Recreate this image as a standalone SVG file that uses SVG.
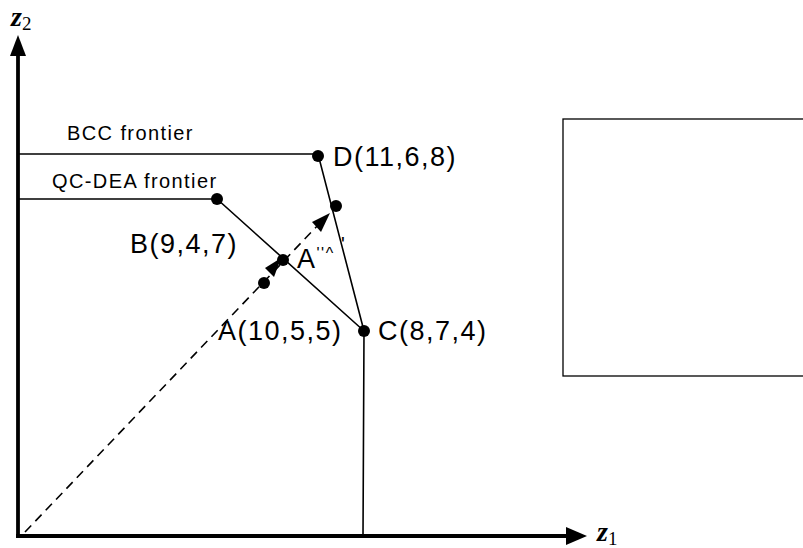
<svg xmlns="http://www.w3.org/2000/svg" width="803" height="548" viewBox="0 0 803 548">
  <style>
    .ln { stroke: #000; stroke-width: 1.6; fill: none; }
    .ax { stroke: #000; stroke-width: 3.8; fill: none; }
    .dash { stroke: #000; stroke-width: 1.6; fill: none; stroke-dasharray: 9 6; }
    .dot { fill: #000; }
    .lbl { font-family: "Liberation Sans", Arial, sans-serif; font-size: 27px; fill: #000; letter-spacing: 1.5px; }
    .sm { font-family: "Liberation Sans", Arial, sans-serif; font-size: 20px; fill: #000; letter-spacing: 1.4px; }
    .ax-lbl { font-family: "Liberation Serif", "Times New Roman", serif; font-style: italic; font-weight: bold; font-size: 28px; fill: #000; }
    .sub { font-family: "Liberation Serif", "Times New Roman", serif; font-style: normal; font-weight: normal; font-size: 19px; fill: #000; }
  </style>

  <!-- axes -->
  <g id="axes">
    <line class="ax" x1="18" y1="538" x2="18" y2="52"/>
    <polygon points="18,35 10,56 26,56" fill="#000"/>
    <line class="ax" x1="16" y1="536" x2="570" y2="536"/>
    <polygon points="587,536 566,527 566,545" fill="#000"/>
    <text class="ax-lbl" x="11" y="26">z<tspan class="sub" dy="4">2</tspan></text>
    <text class="ax-lbl" x="597" y="541">z<tspan class="sub" dy="4">1</tspan></text>
  </g>

  <!-- frontiers and projection paths -->
  <g id="connectors">
    <polyline class="ln" points="18,154 318,154 364,331"/>
    <polyline class="ln" points="18,199 217,199 364,331 363,536"/>
    <line class="dash" x1="25" y1="532" x2="320" y2="223"/>
    <polygon points="330,213 312,222 321,232" fill="#000"/>
    <polygon points="281,258 265,268 274,277" fill="#000"/>
  </g>

  <!-- empty panel on the right -->
  <g id="panel">
    <rect x="563" y="119" width="245" height="257" fill="none" stroke="#000" stroke-width="1.3"/>
  </g>

  <g id="node-D">
    <circle class="dot" cx="318" cy="156" r="6"/>
    <text class="lbl" x="333" y="166">D(11,6,8)</text>
  </g>
  <g id="node-B">
    <circle class="dot" cx="217" cy="199" r="6"/>
    <text class="lbl" x="130" y="253">B(9,4,7)</text>
  </g>
  <g id="node-A">
    <circle class="dot" cx="264" cy="283" r="6"/>
    <text class="lbl" x="218" y="340">A(10,5,5)</text>
  </g>
  <g id="node-C">
    <circle class="dot" cx="364" cy="331" r="6"/>
    <text class="lbl" x="378" y="340">C(8,7,4)</text>
  </g>
  <g id="node-A2">
    <circle class="dot" cx="283" cy="260" r="6"/>
    <text class="lbl" x="297" y="268">A<tspan font-size="16" dy="-9">''^</tspan></text>
    <text class="sm" x="341" y="251" font-size="15">'</text>
  </g>
  <g id="node-A3">
    <circle class="dot" cx="336" cy="206" r="6"/>
  </g>

  <g id="frontier-labels">
    <text class="sm" x="67" y="140">BCC frontier</text>
    <text class="sm" x="52" y="188">QC-DEA frontier</text>
  </g>
</svg>
